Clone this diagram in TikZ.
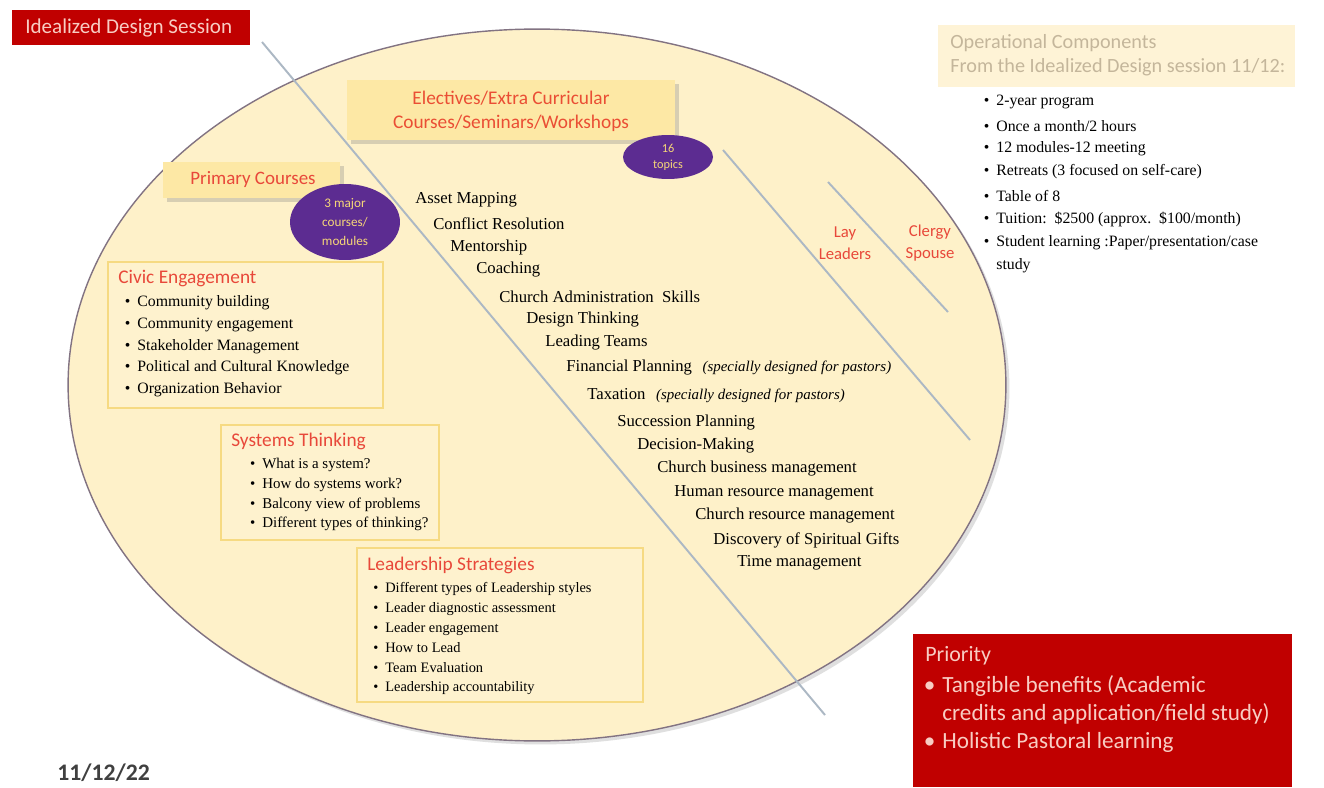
\documentclass[tikz,border=0pt]{standalone}
\usepackage{fontspec}
\setmainfont{Liberation Serif}
\newfontfamily\calib{Carlito}
\usetikzlibrary{shadows}
\definecolor{cream}{RGB}{254,241,201}
\definecolor{tabfill}{RGB}{253,232,165}
\definecolor{panelline}{RGB}{246,218,130}
\definecolor{panelfill}{RGB}{254,242,206}
\definecolor{darkred}{RGB}{192,0,0}
\definecolor{pinktext}{RGB}{248,205,195}
\definecolor{headred}{RGB}{232,72,58}
\definecolor{blobfill}{RGB}{92,44,145}
\definecolor{blobtext}{RGB}{246,214,120}
\definecolor{divider}{RGB}{172,184,196}
\definecolor{opfill}{RGB}{254,243,214}
\definecolor{optext}{RGB}{196,182,155}
\definecolor{rim}{RGB}{130,115,130}
\newcommand\bul{\llap{\textbullet\hspace{4pt}}}
\newcommand\pastornote[1]{\hspace{6pt}{\fontsize{8.5}{10}\itshape #1}}

\begin{document}
\begin{tikzpicture}[x=0.02cm, y=-0.02cm,
    redbar/.style={fill=darkred},
    tab/.style={fill=tabfill, drop shadow={shadow xshift=2.5pt, shadow yshift=-2.5pt, opacity=0.3}},
    panel/.style={draw=panelline, fill=panelfill, line width=0.8pt},
    blob/.style={fill=blobfill},
    divider line/.style={draw=divider, line width=1.1pt},
    head/.style={font=\calib\fontsize{11}{13}\selectfont, text=headred, anchor=west, inner sep=0pt},
    topic/.style={font=\fontsize{9.5}{11}\selectfont, anchor=west, inner sep=0pt},
    item/.style={font=\fontsize{#1}{11}\selectfont, anchor=west, inner sep=0pt},
    item/.default=9]
  \useasboundingbox (0,0) rectangle (1324,787);
  \fill[white] (0,0) rectangle (1324,787);

  % Title banner
  \fill[redbar] (12,10) rectangle (250,45);
  \node[font=\calib\fontsize{12}{14}\selectfont, text=pinktext, anchor=west, inner sep=0pt] (title) at (25,28) {Idealized Design Session};

  % Big ellipse
  \path[fill=cream, draw=rim, line width=0.8pt,
        drop shadow={shadow xshift=2pt, shadow yshift=-2pt, opacity=0.25}]
    (537,385) ellipse [x radius=9.38cm, y radius=7.12cm];

  % Divider lines
  \coordinate (d1a) at (262,42);  \coordinate (d1b) at (825,715);
  \coordinate (d2a) at (723,150); \coordinate (d2b) at (970,440);
  \coordinate (d3a) at (828,182); \coordinate (d3b) at (948,312);
  \draw[divider line] (d1a) -- (d1b);
  \draw[divider line] (d2a) -- (d2b);
  \draw[divider line] (d3a) -- (d3b);

  % Electives tab
  \path[tab] (347,80) rectangle (675,140);
  \node[font=\calib\fontsize{11}{13.5}\selectfont, text=headred!90!orange, align=center] (electives) at (511,111)
    {Electives/Extra Curricular\\Courses/Seminars/Workshops};
  \fill[blob] (668,157) ellipse [x radius=0.9cm, y radius=0.44cm];
  \node[font=\calib\fontsize{7}{9}\selectfont, text=blobtext, align=center] (topics) at (668,157) {16\\topics};

  % Primary courses tab
  \path[tab] (163,162) rectangle (340,198);
  \node[font=\calib\fontsize{10.8}{12}\selectfont, text=headred] (primary) at (253,180) {Primary Courses};
  \fill[blob] (345,222) ellipse [x radius=1.1cm, y radius=0.76cm];
  \node[font=\calib\fontsize{7.5}{11}\selectfont, text=blobtext, align=center] (major) at (345,222)
    {3 major\\courses/\\modules};

  % Elective topics
  \foreach \x/\y/\t [count=\i] in {
      415/200/Asset Mapping, 433/224/Conflict Resolution, 450/247/Mentorship,
      476/270/Coaching, 499/297/{Church Administration\ \ Skills}, 526/320/Design Thinking,
      545/343/Leading Teams,
      566/368/{Financial Planning\pastornote{(specially designed for pastors)}},
      587/396/{Taxation\pastornote{(specially designed for pastors)}},
      617/423/Succession Planning, 637/446/Decision-Making,
      657/469/Church business management, 674/493/Human resource management,
      695/516/Church resource management, 713/540/Discovery of Spiritual Gifts,
      737/563/Time management}
    \node[topic] (topic\i) at (\x,\y) {\t};

  % Civic engagement
  \draw[panel] (108,262) rectangle (383,408);
  \node[head] (civic) at (118,279) {Civic Engagement};
  \foreach \y/\t [count=\i] in {303/Community building, 325/Community engagement,
      347/Stakeholder Management, 368/Political and Cultural Knowledge, 390/Organization Behavior}
    \node[item] (civic\i) at (137,\y) {\bul\t};

  % Systems thinking
  \draw[panel] (221,425) rectangle (439,540);
  \node[head] (systems) at (231,441) {Systems Thinking};
  \foreach \y/\t [count=\i] in {465/What is a system?, 485/How do systems work?,
      505/Balcony view of problems, 524/Different types of thinking?}
    \node[item=8.5] (systems\i) at (262,\y) {\bul\t};

  % Leadership strategies
  \draw[panel] (357,548) rectangle (643,702);
  \node[head] (leadership) at (367,565) {Leadership Strategies};
  \foreach \y/\t [count=\i] in {589/Different types of Leadership styles, 609/Leader diagnostic assessment,
      629/Leader engagement, 648/How to Lead, 668/Team Evaluation, 688/Leadership accountability}
    \node[item=8.2] (leadership\i) at (385,\y) {\bul\t};

  % Audiences
  \node[font=\calib\fontsize{9.5}{12.5}\selectfont, text=headred, align=center] (lay) at (845,243) {Lay\\Leaders};
  \node[font=\calib\fontsize{9.5}{12.5}\selectfont, text=headred, align=center] (clergy) at (930,243) {Clergy\\Spouse};

  % Operational components
  \fill[opfill] (938,25) rectangle (1295,87);
  \node[font=\calib\fontsize{11.5}{13.5}\selectfont, text=optext, align=left, anchor=west, inner sep=0pt] (ops) at (950,55)
    {Operational Components\\From the Idealized Design session 11/12:};
  \foreach \y/\t [count=\i] in {102/2-year program, 126/{Once a month/2 hours}, 149/12 modules-12 meeting,
      172/Retreats (3 focused on self-care), 196/Table of 8,
      219/{Tuition:\ \ \$2500 (approx.\ \ \$100/month)},
      243/{Student learning :Paper/presentation/case}}
    \node[item] (ops\i) at (996,\y) {\bul\t};
  \node[item] (ops8) at (996,266) {study};

  % Priority
  \fill[redbar] (913,634) rectangle (1292,787);
  \node[font=\calib\fontsize{12.5}{15}\selectfont, text=pinktext, anchor=west, inner sep=0pt] (priority) at (925,656) {Priority};
  \foreach \y/\t [count=\i] in {686/{\bul Tangible benefits (Academic}, 714/{credits and application/field study)},
      742/{\bul Holistic Pastoral learning}}
    \node[font=\calib\fontsize{13.2}{15}\selectfont, text=pinktext, anchor=west, inner sep=0pt] (priority\i) at (942,\y) {\t};

  % Date
  \node[font=\calib\bfseries\fontsize{13.5}{15}\selectfont, text=black!75, anchor=west, inner sep=0pt] (date) at (57,773) {11/12/22};
\end{tikzpicture}
\end{document}
